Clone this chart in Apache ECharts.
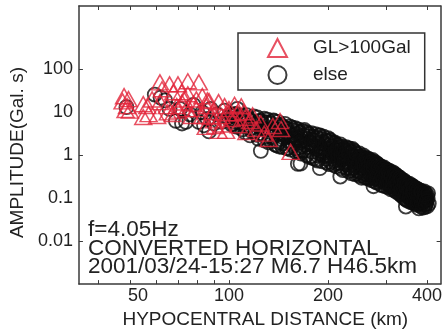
<!DOCTYPE html>
<html>
<head>
<meta charset="utf-8">
<script src="https://cdn.jsdelivr.net/npm/echarts@6/dist/echarts.min.js"></script>
<style>
  html, body { margin: 0; padding: 0; background: #fff; }
  #chart { width: 445px; height: 334px; }
</style>
</head>
<body>
<div id="chart"></div>
<script>
// Axis ticks and labels (log scales)
const xTickValues = [40, 50, 60, 70, 80, 90, 100, 200, 300, 400];
const xLabelValues = [50, 100, 200, 400];
const xLabelText = ['50', '100', '200', '400'];
const yTickValues = [0.01, 1, 100];
const yLabelValues = [0.01, 0.1, 1, 10, 100];
const yLabelText = ['0.01', '0.1', '1', '10', '100'];

const seriesNames = ['GL>100Gal', 'else'];

// Stations with peak ground acceleration above 100 Gal: [distance km, amplitude Gal·s]
const highGLPoints = [
  [48, 23.8], [49.5, 20.3], [47.5, 18], [48.5, 11.3], [50, 11], [49, 14],
  [54.9, 15.5], [56.5, 14], [57, 9.1], [54.9, 7.8], [60.5, 8.2], [58.4, 20],
  [61.7, 50], [62.6, 34.5], [61.7, 17.3], [64.8, 14], [65.2, 10],
  [66, 45], [70, 45], [75, 53], [81, 50], [67.7, 29.4], [71.8, 29.4], [75, 26.4],
  [73, 20], [79.6, 20], [83, 23.8], [69.4, 14], [74.3, 11.9], [79.6, 11.9],
  [85.3, 14], [67.5, 9.1], [77, 8.2], [83, 8.2], [72, 17], [86, 19], [78, 16], [70, 11],
  [87, 18.3], [93, 17.3], [89, 10.1], [95, 8.2], [91, 4.8], [98, 3.7], [102, 7],
  [100, 11.9], [85, 4.6], [93, 3.7], [97, 14], [104, 15], [90, 6.5], [96, 5.2],
  [88, 8], [99, 9.5],
  [109, 13.9], [111, 10.1], [116, 6.3], [113, 3.5], [121, 4.1], [143, 6.3],
  [144, 4.1], [154, 1.2], [132, 2.4], [107, 5], [118, 8.5], [125, 5.5],
  [112, 7.5], [106, 9.5], [128, 3.2], [136, 4.8]
];

// All other stations: [distance km, amplitude Gal·s]
const otherPoints = [
  [48.8, 13.2], [59.5, 26], [62, 22], [64, 19], [66, 12], [69, 6.3], [71, 12], [74, 6],
  [76, 9], [78, 15], [81, 6], [83, 10], [86, 7], [87, 3.6], [88, 12], [90, 5.5], [92, 9],
  [95, 6], [97, 11], [99, 7.5], [103, 5.5], [104, 9], [106, 12], [72, 5.5], [84, 5],
  [101, 8.8], [102, 5.2], [103, 7.0], [104, 6.1], [105, 9.2], [106, 4.6], [107, 7.8],
  [108, 5.6], [109, 8.4], [110, 4.0],
  [100.5, 6.8], [102.5, 8.2], [104.5, 4.8], [108.5, 7.0], [110.5, 5.7], [112.5, 4.6],
  [114.5, 6.8], [117.5, 3.6], [119.5, 5.2], [121.5, 3.0], [123.5, 6.2], [126.5, 4.2],
  [128.5, 2.2], [129.5, 5.8],
  [111, 6.6], [112, 3.4], [113, 8.6], [114, 5.0], [115, 7.2], [116, 2.9], [117, 4.3],
  [118, 6.1], [119, 8.0], [120, 3.6], [121, 5.5],
  [122, 7.6], [123, 2.4], [124, 4.6], [125, 6.4], [125, 1.27], [126, 3.2], [127, 5.3],
  [128, 7.1], [129, 2.7], [130, 4.0],
  [131, 6.8], [132, 2.0], [133, 3.5], [134, 5.6], [135, 2.6], [136, 4.4], [137, 6.2],
  [138, 1.8], [139, 3.0], [140, 5.0], [140, 2.2],
  [130.5, 5.8], [132.5, 3.0], [134.5, 2.2], [136.5, 6.5], [138.5, 4.0], [139.5, 1.7],
  [141, 6.0], [142, 1.6], [143, 3.7], [144, 2.4], [145, 4.8], [146, 1.9], [147, 3.1],
  [148, 5.4], [149, 2.7], [150, 1.45], [150, 4.2],
  [141.5, 2.0], [143.5, 5.2], [145.5, 1.55], [147.5, 4.4], [149.5, 3.4], [146.5, 2.6],
  [151, 3.5], [152, 2.1], [153, 4.7], [154, 1.35], [155, 2.9], [156, 3.9], [157, 1.7],
  [158, 2.4], [159, 4.3], [160, 1.2], [160, 3.2],
  [151.5, 1.5], [153.5, 2.6], [155.5, 4.4], [157.5, 3.0], [159.5, 1.45], [156.5, 1.9],
  [161, 2.6], [162, 0.63], [162, 4.0], [163, 1.5], [164, 3.4], [165, 1.1], [165, 0.64],
  [166, 2.2], [167, 3.7], [168, 1.3], [169, 2.9], [170, 1.8],
  [161.5, 3.6], [163.5, 1.2], [165.5, 2.7], [167.5, 1.6], [169.5, 3.9], [164.5, 2.0],
  [171, 3.5], [172, 1.0], [173, 2.4], [174, 1.55], [175, 3.1], [176, 0.9], [177, 2.0],
  [178, 3.3], [179, 1.2], [180, 2.7], [180, 1.7],
  [171.5, 1.3], [173.5, 3.3], [175.5, 1.9], [177.5, 0.95], [179.5, 2.3], [174.5, 2.8],
  [181, 0.85], [182, 2.2], [183, 3.1], [184, 1.4], [185, 2.6], [186, 0.75], [187, 1.9],
  [188, 1.1], [189, 0.5], [189, 2.9], [190, 1.5],
  [181.5, 1.6], [183.5, 2.4], [185.5, 1.0], [187.5, 2.9], [189.5, 1.25], [184.5, 0.8],
  [191, 2.4], [192, 0.72], [193, 1.25], [194, 2.7], [195, 0.95], [196, 1.8], [197, 2.2],
  [198, 0.68], [199, 1.4], [200, 2.5], [200, 1.0],
  [191.5, 1.05], [193.5, 2.0], [195.5, 1.5], [197.5, 0.82], [199.5, 2.1], [194.5, 1.15],
  [201, 0.62], [202, 1.7], [203, 2.3], [204, 1.2], [205, 0.85], [206, 2.0], [207, 1.45],
  [208, 0.6], [209, 1.0], [210, 1.9], [210, 0.75],
  [201.5, 2.2], [203.5, 0.7], [205.5, 1.6], [207.5, 1.1], [209.5, 2.0], [204.5, 0.95],
  [211, 1.3], [212, 0.55], [213, 1.75], [214, 0.9], [215, 1.5], [216, 0.68], [217, 1.15],
  [218, 0.32], [218, 1.8], [219, 0.5], [220, 1.35], [220, 0.8],
  [211.5, 0.65], [213.5, 1.4], [215.5, 0.78], [217.5, 1.6], [219.5, 1.0], [214.5, 1.1],
  [221, 1.6], [222, 0.45], [223, 1.0], [224, 1.4], [225, 0.62], [226, 0.85], [227, 1.55],
  [228, 0.5], [229, 1.15], [230, 0.7], [230, 1.3],
  [221.5, 0.55], [223.5, 1.25], [225.5, 0.95], [227.5, 0.68], [229.5, 1.45], [224.5, 0.75],
  [231, 0.42], [232, 1.45], [233, 0.9], [234, 0.6], [235, 1.2], [236, 0.38], [237, 1.0],
  [238, 0.75], [239, 1.3], [240, 0.5], [240, 0.95],
  [231.5, 1.1], [233.5, 0.5], [235.5, 0.8], [237.5, 1.4], [239.5, 0.65], [234.5, 0.45],
  [241, 1.2], [242, 0.36], [243, 0.8], [244, 0.55], [245, 1.05], [246, 0.65], [247, 0.42],
  [248, 0.9], [249, 1.1], [250, 0.33], [250, 0.7],
  [241.5, 0.75], [243.5, 1.1], [245.5, 0.45], [247.5, 0.6], [249.5, 0.85], [244.5, 0.38],
  [251, 0.95], [252, 0.5], [253, 0.3], [254, 0.78], [255, 0.6], [256, 1.0], [257, 0.38],
  [258, 0.85], [259, 0.45], [260, 0.68], [260, 0.3],
  [251.5, 0.4], [253.5, 0.9], [255.5, 0.7], [257.5, 0.55], [259.5, 0.8], [254.5, 0.34],
  [261, 0.88], [262, 0.55], [263, 0.3], [264, 0.72], [265, 0.4], [266, 0.82], [267, 0.28],
  [268, 0.6], [269, 0.47], [270, 0.75], [270, 0.35],
  [261.5, 0.36], [263.5, 0.8], [265.5, 0.62], [267.5, 0.45], [269.5, 0.3], [264.5, 0.52],
  [271, 0.52], [272, 0.26], [273, 0.78], [274, 0.4], [275, 0.19], [275, 0.62], [276, 0.3],
  [277, 0.7], [278, 0.45], [279, 0.24], [280, 0.58], [280, 0.36],
  [271.5, 0.7], [273.5, 0.33], [275.5, 0.48], [277.5, 0.28], [279.5, 0.64], [274.5, 0.55],
  [281, 0.66], [282, 0.23], [283, 0.48], [284, 0.33], [285, 0.6], [286, 0.27], [287, 0.42],
  [288, 0.55], [289, 0.21], [290, 0.37], [290, 0.5],
  [281.5, 0.3], [283.5, 0.6], [285.5, 0.4], [287.5, 0.25], [289.5, 0.46], [284.5, 0.52],
  [291, 0.54], [292, 0.2], [293, 0.3], [294, 0.45], [295, 0.25], [296, 0.52], [297, 0.36],
  [298, 0.19], [299, 0.42], [300, 0.28], [300, 0.47],
  [291.5, 0.32], [293.5, 0.5], [295.5, 0.4], [297.5, 0.23], [299.5, 0.35], [294.5, 0.28],
  [301, 0.22], [302, 0.46], [303, 0.33], [304, 0.18], [305, 0.4], [306, 0.27], [307, 0.44],
  [308, 0.2], [309, 0.35], [310, 0.24], [310, 0.41],
  [301.5, 0.38], [303.5, 0.25], [305.5, 0.31], [307.5, 0.37], [309.5, 0.19], [304.5, 0.43],
  [311, 0.16], [312, 0.38], [313, 0.29], [314, 0.22], [315, 0.4], [316, 0.18], [317, 0.32],
  [318, 0.26], [319, 0.37], [320, 0.15], [320, 0.3],
  [311.5, 0.33], [313.5, 0.2], [315.5, 0.27], [317.5, 0.36], [319.5, 0.24], [314.5, 0.17],
  [321, 0.35], [322, 0.2], [323, 0.14], [324, 0.28], [325, 0.33], [326, 0.17], [327, 0.24],
  [328, 0.31], [329, 0.13], [330, 0.21], [330, 0.27],
  [321.5, 0.25], [323.5, 0.3], [325.5, 0.16], [327.5, 0.2], [329.5, 0.29], [324.5, 0.22],
  [331, 0.3], [332, 0.15], [333, 0.12], [334, 0.23], [335, 0.27], [336, 0.18], [337, 0.11],
  [338, 0.25], [339, 0.14], [340, 0.2], [340, 0.26],
  [331.5, 0.2], [333.5, 0.27], [335.5, 0.13], [337.5, 0.22], [339.5, 0.17], [334.5, 0.16],
  [341, 0.1], [342, 0.24], [343, 0.16], [344, 0.2], [345, 0.064], [345, 0.13], [346, 0.23],
  [347, 0.09], [348, 0.18], [349, 0.11], [350, 0.21],
  [341.5, 0.22], [343.5, 0.12], [345.5, 0.17], [347.5, 0.21], [349.5, 0.14], [344.5, 0.095],
  [351, 0.15], [352, 0.085], [353, 0.22], [354, 0.12], [355, 0.18], [356, 0.1], [357, 0.2],
  [358, 0.08], [359, 0.14], [360, 0.17], [360, 0.095],
  [351.5, 0.19], [353.5, 0.11], [355.5, 0.14], [357.5, 0.09], [359.5, 0.2], [354.5, 0.16],
  [361, 0.19], [362, 0.12], [363, 0.08], [364, 0.15], [365, 0.1], [366, 0.18], [367, 0.075],
  [368, 0.13], [369, 0.16], [370, 0.09], [370, 0.11],
  [361.5, 0.14], [363.5, 0.17], [365.5, 0.085], [367.5, 0.12], [369.5, 0.1], [364.5, 0.13],
  [371, 0.17], [372, 0.07], [373, 0.12], [374, 0.14], [375, 0.085], [376, 0.16], [377, 0.1],
  [378, 0.058], [379, 0.13], [380, 0.075], [380, 0.15],
  [371.5, 0.13], [373.5, 0.09], [375.5, 0.15], [377.5, 0.12], [379.5, 0.1], [374.5, 0.075],
  [381, 0.11], [382, 0.15], [383, 0.065], [384, 0.09], [385, 0.13], [386, 0.08], [387, 0.14],
  [388, 0.06], [389, 0.1], [390, 0.12], [390, 0.07],
  [381.5, 0.13], [383.5, 0.1], [385.5, 0.075], [387.5, 0.12], [389.5, 0.085], [384.5, 0.14],
  [392, 0.145], [393, 0.085], [394, 0.062], [395, 0.11], [396, 0.13], [397, 0.075],
  [398, 0.095], [400, 0.12], [401, 0.065], [402, 0.1],
  [391.5, 0.09], [393.5, 0.12], [395.5, 0.07], [399, 0.085], [403, 0.13], [405, 0.075]
];

const FONT = '"Liberation Sans", Arial, sans-serif';
const AXIS_COLOR = '#3a3a3a';
const TEXT_COLOR = '#222';

function labelFor(values, texts, v) {
  for (let i = 0; i < values.length; i++) {
    if (Math.abs(Math.log10(values[i]) - Math.log10(v)) < 1e-6) return texts[i];
  }
  return '';
}

const chart = echarts.init(document.getElementById('chart'), null, { renderer: 'canvas' });

const xBase = {
  type: 'log',
  min: 35,
  max: 440,
  splitLine: { show: false },
  axisLine: { show: true, lineStyle: { color: AXIS_COLOR, width: 1.5 } },
  axisTick: { show: true, inside: true, length: 4, customValues: xTickValues, lineStyle: { color: AXIS_COLOR, width: 1 } },
  minorTick: { show: false }
};
const yBase = {
  type: 'log',
  min: 0.001,
  max: 3000,
  splitLine: { show: false },
  axisLine: { show: true, lineStyle: { color: AXIS_COLOR, width: 1.5 } },
  axisTick: { show: true, inside: true, length: 4, customValues: yTickValues, lineStyle: { color: AXIS_COLOR, width: 1 } },
  minorTick: { show: false }
};

chart.setOption({
  animation: false,
  backgroundColor: '#fff',
  textStyle: { fontFamily: FONT },
  title: {
    text: 'f=4.05Hz\nCONVERTED HORIZONTAL\n2001/03/24-15:27 M6.7 H46.5km',
    left: 88,
    top: 221,
    padding: 0,
    textStyle: { fontFamily: FONT, fontSize: 22.5, fontWeight: 'normal', color: TEXT_COLOR, lineHeight: 18.5 }
  },
  legend: {
    data: seriesNames,
    orient: 'vertical',
    left: 238,
    top: 33,
    padding: [5, 14, 5, 29],
    itemGap: 7,
    itemWidth: 19,
    itemHeight: 18,
    borderColor: '#333',
    borderWidth: 1.5,
    backgroundColor: '#fff',
    textStyle: { fontFamily: FONT, fontSize: 19, color: TEXT_COLOR, padding: [0, 0, 0, 21] }
  },
  grid: { left: 78, right: 0, top: 6, bottom: 49 },
  xAxis: [
    Object.assign({}, xBase, {
      position: 'bottom',
      name: 'HYPOCENTRAL DISTANCE (km)',
      nameLocation: 'middle',
      nameGap: 23,
      nameTextStyle: { fontFamily: FONT, fontSize: 19, color: TEXT_COLOR, padding: [0, 0, 0, 11] },
      axisLabel: {
        show: true, margin: 3, fontSize: 18, color: TEXT_COLOR, fontFamily: FONT,
        customValues: xLabelValues,
        formatter: v => {
          const t = labelFor(xLabelValues, xLabelText, v);
          return t === '50' ? '{shift|' + t + '}' : t;
        },
        rich: { shift: { fontFamily: FONT, fontSize: 18, color: TEXT_COLOR, padding: [0, 0, 0, 16] } }
      }
    }),
    Object.assign({}, xBase, {
      position: 'top',
      axisLabel: { show: false }
    })
  ],
  yAxis: [
    Object.assign({}, yBase, {
      position: 'left',
      name: 'AMPLITUDE(Gal. s)',
      nameLocation: 'middle',
      nameGap: 50,
      nameTextStyle: { fontFamily: FONT, fontSize: 19, color: TEXT_COLOR, padding: [0, 15, 0, 0] },
      axisLabel: {
        show: true, margin: 6, fontSize: 18, color: TEXT_COLOR, fontFamily: FONT,
        customValues: yLabelValues,
        formatter: v => labelFor(yLabelValues, yLabelText, v)
      }
    }),
    Object.assign({}, yBase, {
      position: 'right',
      axisLabel: { show: false }
    })
  ],
  series: [
    {
      name: seriesNames[1],
      type: 'scatter',
      xAxisIndex: 0,
      yAxisIndex: 0,
      symbol: 'circle',
      symbolSize: 14,
      itemStyle: { color: 'rgba(0,0,0,0)', borderColor: '#0d0d0d', borderWidth: 1.8 },
      emphasis: { disabled: true },
      data: otherPoints,
      z: 2
    },
    {
      name: seriesNames[0],
      type: 'scatter',
      xAxisIndex: 0,
      yAxisIndex: 0,
      symbol: 'triangle',
      symbolSize: [17, 15],
      itemStyle: { color: 'rgba(0,0,0,0)', borderColor: '#e2243a', borderWidth: 1.5 },
      emphasis: { disabled: true },
      data: highGLPoints,
      z: 3
    }
  ]
});
</script>
</body>
</html>
